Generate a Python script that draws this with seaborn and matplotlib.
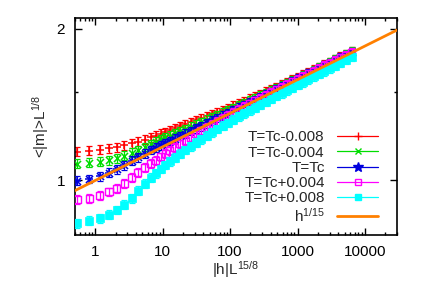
import numpy as np
import matplotlib
matplotlib.use("Agg")
import matplotlib.pyplot as plt
import seaborn as sns
from matplotlib.lines import Line2D
from matplotlib.ticker import FixedLocator, NullFormatter, LogLocator

# scaled field |h| L^{15/8}
x_scaled = [0.54, 0.82, 1.16, 1.6, 2.1, 2.7, 3.5, 4.3, 5.4, 6.7, 7.9, 9.3, 11, 12.7,
            15, 18, 21.5, 26, 31, 37, 45, 54, 65, 78, 93, 112, 135, 162, 194, 233,
            280, 336, 403, 484, 580, 697, 836, 1000, 1200, 1445, 1730, 2080, 2500,
            3000, 3600, 4300, 5200, 6400]

# <|m|> L^{1/8}
m_minus_008 = [1.140, 1.145, 1.151, 1.158, 1.164, 1.175, 1.185, 1.194, 1.205, 1.218,
               1.228, 1.238, 1.248, 1.258, 1.269, 1.280, 1.292, 1.305, 1.316, 1.328,
               1.342, 1.354, 1.367, 1.380, 1.393, 1.408, 1.423, 1.438, 1.452, 1.467,
               1.484, 1.500, 1.516, 1.533, 1.550, 1.567, 1.585, 1.602, 1.622, 1.640,
               1.660, 1.679, 1.700, 1.719, 1.740, 1.761, 1.781, 1.806]
m_minus_004 = [1.080, 1.084, 1.089, 1.097, 1.106, 1.120, 1.136, 1.149, 1.166, 1.182,
               1.194, 1.206, 1.218, 1.228, 1.240, 1.253, 1.265, 1.279, 1.291, 1.305,
               1.320, 1.335, 1.349, 1.364, 1.377, 1.393, 1.409, 1.425, 1.441, 1.457,
               1.473, 1.490, 1.507, 1.525, 1.542, 1.560, 1.579, 1.596, 1.615, 1.634,
               1.654, 1.674, 1.693, 1.714, 1.735, 1.755, 1.776, 1.801]
m_tc = [0.999, 1.007, 1.019, 1.036, 1.053, 1.071, 1.094, 1.112, 1.131, 1.149,
        1.161, 1.174, 1.187, 1.198, 1.211, 1.225, 1.239, 1.254, 1.269, 1.282,
        1.299, 1.314, 1.330, 1.345, 1.361, 1.378, 1.394, 1.411, 1.428, 1.445,
        1.462, 1.480, 1.498, 1.516, 1.535, 1.553, 1.572, 1.591, 1.609, 1.629,
        1.649, 1.669, 1.690, 1.710, 1.731, 1.752, 1.774, 1.799]
m_plus_004 = [0.917, 0.922, 0.935, 0.949, 0.963, 0.988, 1.013, 1.036, 1.060, 1.081,
              1.096, 1.114, 1.132, 1.148, 1.164, 1.182, 1.200, 1.219, 1.237, 1.254,
              1.273, 1.292, 1.310, 1.328, 1.346, 1.364, 1.383, 1.401, 1.419, 1.438,
              1.457, 1.475, 1.493, 1.512, 1.530, 1.550, 1.569, 1.588, 1.607, 1.627,
              1.647, 1.668, 1.688, 1.709, 1.730, 1.750, 1.773, 1.797]
m_plus_008 = [0.822, 0.832, 0.842, 0.855, 0.874, 0.895, 0.922, 0.954, 0.985, 1.013,
              1.033, 1.054, 1.074, 1.091, 1.110, 1.130, 1.150, 1.169, 1.188, 1.207,
              1.227, 1.246, 1.265, 1.284, 1.301, 1.320, 1.340, 1.359, 1.377, 1.395,
              1.414, 1.432, 1.451, 1.471, 1.490, 1.509, 1.528, 1.547, 1.567, 1.587,
              1.608, 1.628, 1.648, 1.669, 1.690, 1.710, 1.734, 1.758]

series_labels = ["T=Tc-0.008", "T=Tc-0.004", "T=Tc", "T=Tc+0.004", "T=Tc+0.008"]
rel_err = 0.02

# reference power law h^{1/15}
fit_x = np.array([0.5, 30000])
fit_exponent = 1 / 15
fit_label = r"$\mathregular{h^{1/15}}$"

colors = ["#ff0000", "#00dd00", "#0000dd", "#ff00ff", "#00ffff"]
orange = "#ff8000"
fs = 11

sns.set_style("ticks")
plt.rcParams["font.family"] = ["Liberation Sans", "DejaVu Sans"]
plt.rcParams["font.size"] = fs

fig, ax = plt.subplots(figsize=(4.28, 3.0), dpi=100)
fig.subplots_adjust(left=0.175, right=0.928, top=0.94, bottom=0.217)
ax.set_xscale("log")
ax.set_yscale("log")

all_series = [m_minus_008, m_minus_004, m_tc, m_plus_004, m_plus_008]
handles = []
for i, (ys, lab, col) in enumerate(zip(all_series, series_labels, colors)):
    ys = np.array(ys)
    ax.errorbar(x_scaled, ys, yerr=rel_err * ys, fmt="none", ecolor=col,
                elinewidth=0.9, capsize=2, capthick=0.9, zorder=2 + i)
    if i == 0:
        sns.scatterplot(x=x_scaled, y=ys, marker="+", s=36, color=col, linewidth=1.1, ax=ax, zorder=2 + i)
        mk = dict(marker="+", ms=6)
    elif i == 1:
        sns.scatterplot(x=x_scaled, y=ys, marker="x", s=26, color=col, linewidth=1.1, ax=ax, zorder=2 + i)
        mk = dict(marker="x", ms=5)
    elif i == 2:
        sns.scatterplot(x=x_scaled, y=ys, marker="+", s=36, color=col, linewidth=1.1, ax=ax, zorder=2 + i)
        sns.scatterplot(x=x_scaled, y=ys, marker="x", s=26, color=col, linewidth=1.1, ax=ax, zorder=2 + i)
        mk = dict(marker="*", ms=7)
    elif i == 3:
        sns.scatterplot(x=x_scaled, y=ys, marker="s", s=26, facecolor="none", edgecolor=col,
                        linewidth=1.0, ax=ax, zorder=2 + i)
        mk = dict(marker="s", ms=5, mfc="none")
    else:
        sns.scatterplot(x=x_scaled, y=ys, marker="s", s=26, color=col, edgecolor=col,
                        linewidth=0.5, ax=ax, zorder=2 + i)
        mk = dict(marker="s", ms=5)
    handles.append(Line2D([], [], color=col, lw=0.9, mec=col, **mk))

sns.lineplot(x=fit_x, y=fit_x ** fit_exponent, color=orange, lw=2, ax=ax, zorder=10)
handles.append(Line2D([], [], color=orange, lw=2))

ax.set_xlim(0.5, 30000)
ax.set_ylim(0.78, 2.1)

ax.xaxis.set_major_locator(FixedLocator([1, 10, 100, 1000, 10000]))
ax.set_xticklabels(["1", "10", "100", "1000", "10000"])
ax.xaxis.set_minor_locator(LogLocator(base=10, subs=np.arange(2, 10)))
ax.xaxis.set_minor_formatter(NullFormatter())
ax.yaxis.set_major_locator(FixedLocator([1, 2]))
ax.set_yticklabels(["1", "2"])
ax.yaxis.set_minor_locator(FixedLocator([1.5]))
ax.yaxis.set_minor_formatter(NullFormatter())

ax.tick_params(which="both", direction="in", top=True, right=True, colors="black",
               labelsize=fs, width=1)
ax.tick_params(which="major", length=5, pad=7)
ax.tick_params(which="minor", length=2.5)
for sp in ax.spines.values():
    sp.set_linewidth(1.2)
    sp.set_color("black")

ax.set_xlabel(r"|h|$\mathregular{L^{15/8}}$", fontsize=fs, labelpad=0)
ax.set_ylabel(r"<|m|>$\mathregular{L^{1/8}}$", fontsize=fs, labelpad=4)

ax.legend(handles, series_labels + [fit_label], loc="lower right",
          bbox_to_anchor=(0.96, 0.02), frameon=False, markerfirst=False,
          handlelength=2.7, handletextpad=0.8, labelspacing=0.08, fontsize=fs,
          borderaxespad=0)

fig.savefig("out.png", dpi=100)
